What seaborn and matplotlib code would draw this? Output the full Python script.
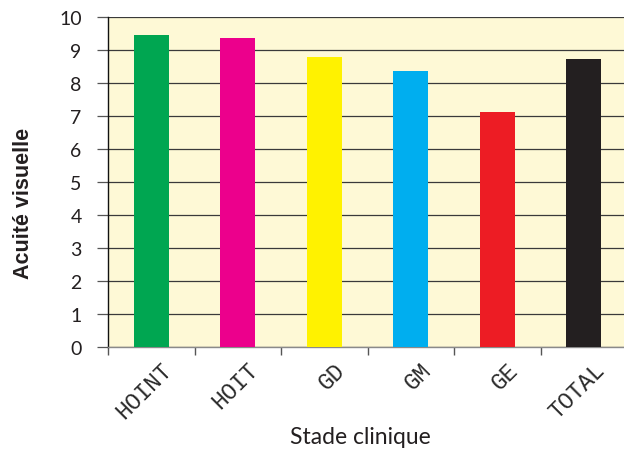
import matplotlib
matplotlib.use("Agg")
import matplotlib.pyplot as plt
import matplotlib.transforms as mtransforms
import seaborn as sns
import pandas as pd

# Visual acuity by clinical stage
stades = ["HOINT", "HOIT", "GD", "GM", "GE", "TOTAL"]
acuite = [9.45, 9.36, 8.79, 8.36, 7.12, 8.73]
couleurs = ["#00A651", "#EC008C", "#FFF200", "#00AEEF", "#ED1C24", "#231F20"]
yticks = [0, 1, 2, 3, 4, 5, 6, 7, 8, 9, 10]

df = pd.DataFrame({"stade": stades, "acuite": acuite})

sns.set_style("white")
plt.rcParams["font.family"] = ["Lato", "DejaVu Sans"]

fig = plt.figure(figsize=(6.24, 4.52), dpi=100)
ax = fig.add_axes([108 / 624, 104 / 452, 519 / 624, 330 / 452])
ax.set_facecolor("#FEF9D6")

sns.barplot(data=df, x="stade", y="acuite", hue="stade", palette=couleurs,
            width=0.4, saturation=1, legend=False, linewidth=0, ax=ax, zorder=3)

ax.set_xlim(-0.5, len(stades) - 0.5)
ax.set_ylim(0, 10)
ax.set_yticks(yticks)
ax.yaxis.grid(True, color="#3a3a3a", linewidth=0.9, zorder=1)
ax.set_axisbelow(True)

for side in ["top", "right"]:
    ax.spines[side].set_visible(False)
ax.spines["left"].set_color("#111111")
ax.spines["left"].set_linewidth(1.0)
ax.spines["bottom"].set_color("#8a8a8a")
ax.spines["bottom"].set_linewidth(1.0)

ax.tick_params(axis="y", left=True, length=8, width=0.9, color="#555555",
               pad=11, labelsize=14, labelcolor="#231F20")

# category boundaries carry the tick marks; labels sit at the centers
ax.set_xticks([i - 0.5 for i in range(len(stades) + 1)], minor=True)
ax.tick_params(axis="x", which="minor", bottom=True, length=6, width=1.0,
               color="#555555")
ax.tick_params(axis="x", which="major", bottom=False, length=0)
ax.set_xticks(range(len(stades)))
ax.set_xticklabels(stades, family="Liberation Mono", fontsize=16.5,
                   rotation=45, ha="right", rotation_mode="anchor",
                   color="#2a2a2a")
shift = mtransforms.ScaledTranslation(9 / 100, -6 / 100, fig.dpi_scale_trans)
for lab in ax.get_xticklabels():
    lab.set_transform(lab.get_transform() + shift)

ax.set_xlabel("Stade clinique", fontsize=16.5, color="#231F20")
ax.xaxis.set_label_coords((360 - 108) / 519, (348 - 427) / 330)
ax.set_ylabel("Acuité visuelle", fontsize=15.5, fontweight="bold",
              family="Liberation Sans", color="#231F20")
ax.yaxis.set_label_coords((34 - 108) / 519, (348 - 203) / 330)

fig.savefig("out.png", dpi=100)
